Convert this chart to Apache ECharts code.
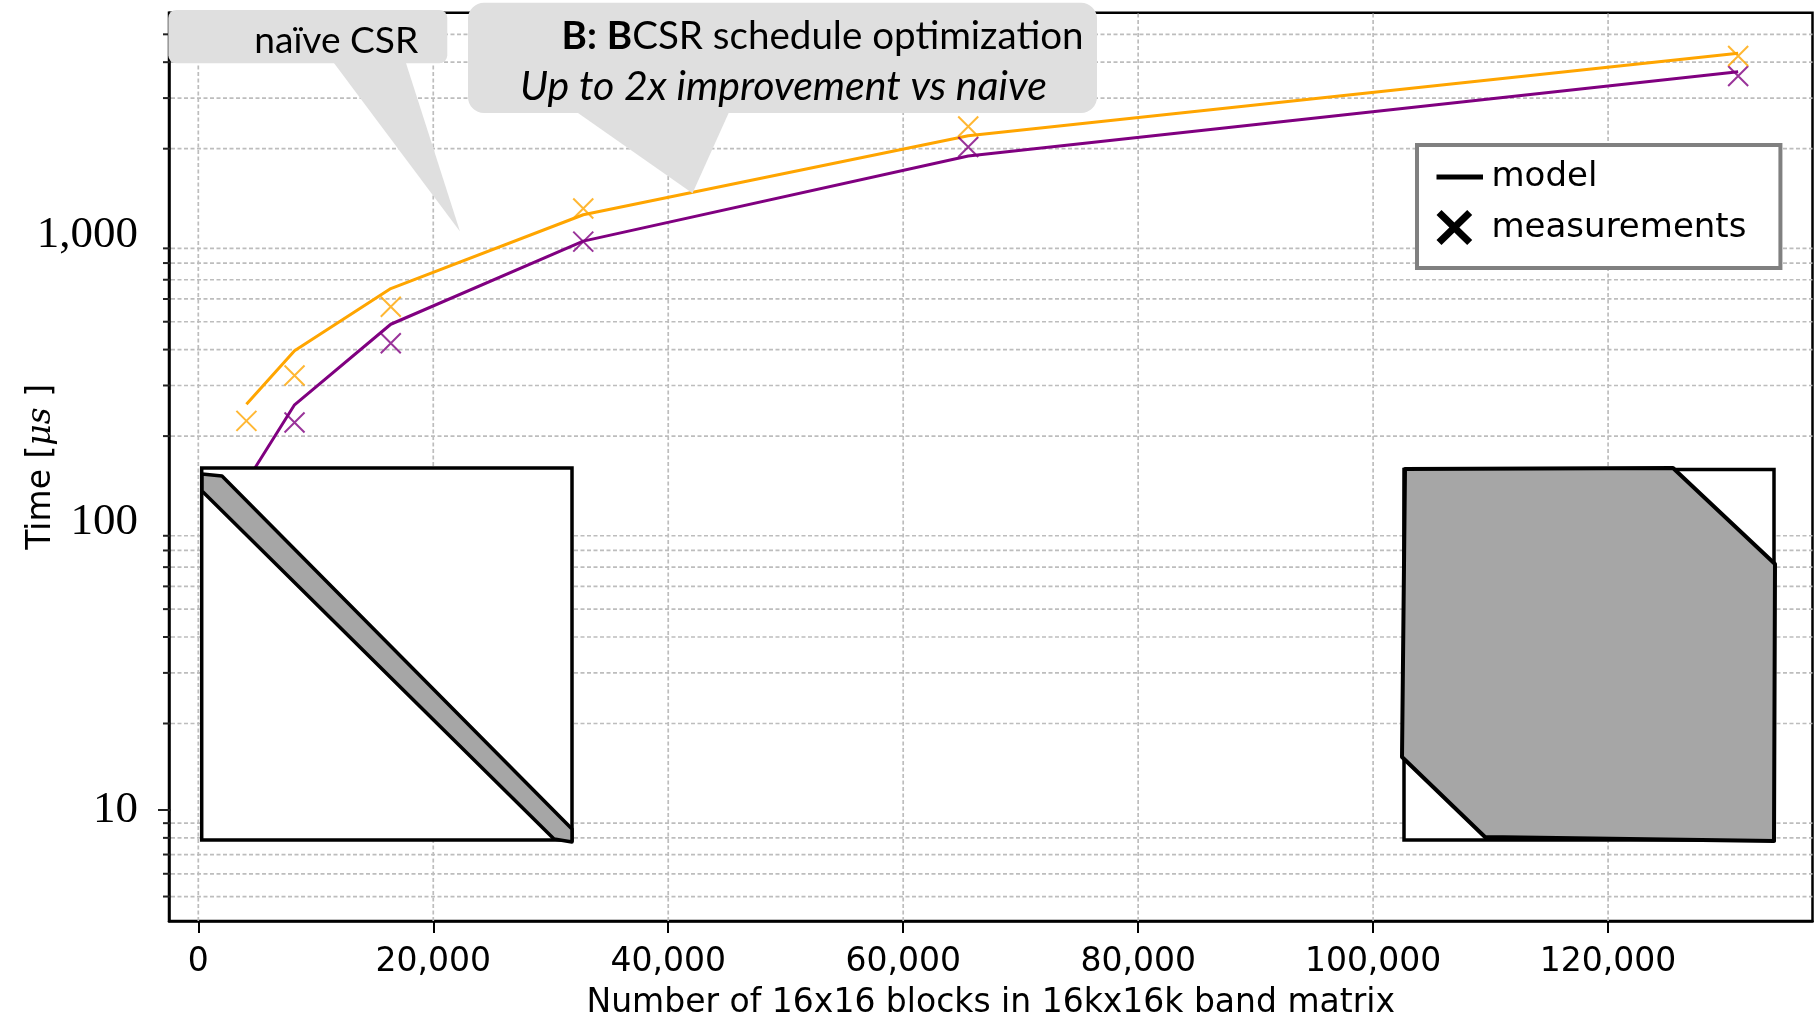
<!DOCTYPE html>
<html>
<head>
<meta charset="utf-8">
<title>CSR vs BCSR</title>
<script src="https://cdn.jsdelivr.net/npm/echarts@6/dist/echarts.min.js"></script>
<style>
    html, body { margin: 0; padding: 0; background: #fff; }
    #chart { width: 1819px; height: 1023px; }
</style>
</head>
<body>
<div id="chart"></div>
<script>
// 数据 ----
var blocks = [4096, 8192, 16384, 32768, 65536, 131072];
var naiveModel = [258, 396, 652, 1178, 2218, 4295];
var naiveMeas = [226, 325, 564, 1238, 2389, 4203];
var bcsrModel = [139, 257, 490, 954, 1886, 3703];
var bcsrMeas = [120, 223, 421, 950, 2027, 3580];
var xTicks = [0, 20000, 40000, 60000, 80000, 100000, 120000];
var yMinorTicks = [5, 6, 7, 8, 9, 20, 30, 40, 50, 60, 70, 80, 90,
    200, 300, 400, 500, 600, 700, 800, 900, 2000, 3000, 4000, 5000];
var yLongTicks = [10];
var xRange = [-2494, 137400];
var yRange = [4.11, 5946];
var legendNames = ['model', 'measurements'];

var ORANGE = '#ffa500', PURPLE = '#800080', GRID = '#bdbdbd', CALLOUT = '#dfdfdf';

// 按目标宽度求字号
var _ctx = document.createElement('canvas').getContext('2d');
function textW(parts, family) {
    var w = 0;
    parts.forEach(function (p) {
        _ctx.font = (p.style || 'normal') + ' ' + (p.weight || 'normal') + ' 100px ' + family;
        w += _ctx.measureText(p.text).width;
    });
    return w;
}
function fitSize(parts, family, target) { return 100 * target / textW(parts, family); }

var fsNaive = fitSize([{text: 'naïve CSR'}], 'Lato', 164);
var fsLine1 = fitSize([{text: 'B:', weight: 'bold'}, {text: ' '}, {text: 'B', weight: 'bold'}, {text: 'CSR schedule optimization'}], 'Lato', 522);
var fsLine2 = fitSize([{text: 'Up to 2x improvement vs naive', style: 'italic'}], 'Lato', 527);

var xMarker = 'path://M0,0L10,10M0,10L10,0';
var lineIcon = 'path://M0,0M50,36M0,15.5H46.5V20.5H0Z';
var crossIcon = 'path://M50,36M0,5L5,0L17.85,12.5L30.7,0L35.7,5L22.85,17.5L35.7,30L30.7,35L17.85,22.5L5,35L0,30L12.85,17.5Z';

function pairs(xs, ys) { return xs.map(function (x, i) { return [x, ys[i]]; }); }

// 横向次网格线 + 左侧刻度
function renderHGrid(params, api) {
    var v = api.value(1);
    var a = api.coord([xRange[0], v]);
    var b = api.coord([xRange[1], v]);
    var isLong = yLongTicks.indexOf(v) >= 0;
    var children = [{
        type: 'line',
        shape: {x1: a[0] - (isLong ? 11 : 6), y1: a[1], x2: a[0] + 2, y2: a[1]},
        style: {stroke: '#222', lineWidth: 2}
    }];
    if (!isLong) {
        children.push({
            type: 'line',
            shape: {x1: a[0] + 2, y1: a[1], x2: b[0], y2: b[1]},
            style: {stroke: GRID, lineWidth: 1.7, lineDash: [4, 2.5]}
        });
    }
    return {type: 'group', children: children};
}
// 纵向网格线
function renderVGrid(params, api) {
    var v = api.value(0);
    var a = api.coord([v, yRange[0]]);
    var b = api.coord([v, yRange[1]]);
    return {
        type: 'line',
        shape: {x1: a[0], y1: a[1], x2: b[0], y2: b[1]},
        style: {stroke: GRID, lineWidth: 1.7, lineDash: [4, 2.5]}
    };
}

var option = {
    backgroundColor: '#fff',
    animation: false,
    grid: {
        left: 169, right: 6.5, top: 12.7, bottom: 102,
        containLabel: false, outerBoundsMode: 'none',
        show: true, borderColor: '#000', borderWidth: 2.5, backgroundColor: 'transparent'
    },
    legend: {
        orient: 'vertical',
        left: 1417, top: 145,
        padding: [14, 34, 22, 19.5],
        itemGap: 15,
        itemWidth: 50, itemHeight: 36,
        selectedMode: false,
        backgroundColor: '#fff',
        borderColor: '#808080', borderWidth: 4,
        itemStyle: {borderWidth: 0},
        textStyle: {fontFamily: 'DejaVu Sans', fontSize: 34, color: '#000', padding: 0},
        data: [{name: legendNames[0], icon: lineIcon}, {name: legendNames[1], icon: crossIcon}]
    },
    xAxis: {
        type: 'value',
        min: xRange[0], max: xRange[1],
        name: 'Number of 16x16 blocks in 16kx16k band matrix',
        nameLocation: 'middle',
        nameGap: 66,
        nameMoveOverlap: false,
        nameTextStyle: {fontFamily: 'DejaVu Sans', fontSize: 33, color: '#000'},
        axisLine: {show: true, onZero: false, lineStyle: {color: '#000', width: 2.5}},
        axisTick: {show: true, customValues: xTicks, length: 12, lineStyle: {color: '#000', width: 2}},
        axisLabel: {
            customValues: xTicks, margin: 25,
            fontFamily: 'DejaVu Sans', fontSize: 33, color: '#000',
            formatter: function (v) { return Math.round(v).toLocaleString('en-US'); }
        },
        splitLine: {show: false}
    },
    yAxis: {
        type: 'log', logBase: 10,
        min: yRange[0], max: yRange[1],
        name: 'Time [{m|μs} ]',
        nameLocation: 'middle',
        nameRotate: 90,
        nameGap: 111,
        nameMoveOverlap: false,
        nameTextStyle: {
            fontFamily: 'DejaVu Sans', fontSize: 33, color: '#000',
            rich: {m: {fontFamily: 'DejaVu Serif', fontStyle: 'italic', fontSize: 33, color: '#000'}}
        },
        axisLine: {show: true, onZero: false, lineStyle: {color: '#000', width: 2.5}},
        axisTick: {show: false},
        axisLabel: {
            margin: 31, showMinLabel: false, showMaxLabel: false,
            fontFamily: 'Liberation Serif', fontSize: 45, color: '#000',
            formatter: function (v) { return Math.round(v).toLocaleString('en-US'); }
        },
        splitLine: {show: false}
    },
    series: [
        {
            type: 'custom', name: 'hgrid', silent: true, clip: false, z: 1,
            data: yMinorTicks.concat(yLongTicks).map(function (v) { return [0, v]; }),
            encode: {x: 0, y: 1},
            renderItem: renderHGrid
        },
        {
            type: 'custom', name: 'vgrid', silent: true, clip: false, z: 1,
            data: xTicks.map(function (v) { return [v, 10]; }),
            encode: {x: 0, y: 1},
            renderItem: renderVGrid
        },
        {
            type: 'line', name: 'bcsr-model', z: 3,
            data: pairs(blocks, bcsrModel),
            showSymbol: false,
            lineStyle: {color: PURPLE, width: 3},
            itemStyle: {color: PURPLE}
        },
        {
            type: 'line', name: 'naive-model', z: 3,
            data: pairs(blocks, naiveModel),
            showSymbol: false,
            lineStyle: {color: ORANGE, width: 3},
            itemStyle: {color: ORANGE}
        },
        {
            type: 'scatter', name: 'bcsr-meas', z: 4,
            data: pairs(blocks, bcsrMeas),
            symbol: xMarker, symbolSize: 20,
            itemStyle: {color: 'none', borderColor: PURPLE, borderWidth: 2}
        },
        {
            type: 'scatter', name: 'naive-meas', z: 4,
            data: pairs(blocks, naiveMeas),
            symbol: xMarker, symbolSize: 20,
            itemStyle: {color: 'none', borderColor: ORANGE, borderWidth: 2}
        },
        // 图例用
        {type: 'line', name: legendNames[0], data: [], itemStyle: {color: '#000'}, lineStyle: {color: '#000'}},
        {type: 'line', name: legendNames[1], data: [], itemStyle: {color: '#000'}, lineStyle: {color: '#000'}}
    ],
    graphic: [
        // 左下：带状矩阵示意
        {type: 'rect', z: 100, shape: {x: 201.7, y: 468, width: 370.3, height: 372},
            style: {fill: '#fff', stroke: '#000', lineWidth: 3.5}},
        {type: 'polygon', z: 101,
            shape: {points: [[202, 474], [222, 476], [572, 829], [572, 842], [554, 839], [202, 491]]},
            style: {fill: '#a6a6a6', stroke: '#000', lineWidth: 3.5, lineJoin: 'round'}},
        // 右下：大带宽示意
        {type: 'rect', z: 100, shape: {x: 1404, y: 469.5, width: 370, height: 370.5},
            style: {fill: '#fff', stroke: '#000', lineWidth: 3.5}},
        {type: 'polygon', z: 101,
            shape: {points: [[1405, 469], [1673, 468], [1775, 564], [1774, 841], [1485, 837], [1402, 757]]},
            style: {fill: '#a6a6a6', stroke: '#000', lineWidth: 4, lineJoin: 'round'}},
        // 标注：naïve CSR
        {type: 'rect', z: 110, shape: {x: 168.3, y: 10, width: 279, height: 53.3, r: 8},
            style: {fill: CALLOUT}},
        {type: 'polygon', z: 110, shape: {points: [[331.7, 60], [405, 60], [460, 231.5]]},
            style: {fill: CALLOUT}},
        {type: 'text', z: 111, x: 254.3, y: 60,
            style: {text: 'naïve CSR', fill: '#000', fontFamily: 'Lato', fontSize: fsNaive,
                align: 'left', verticalAlign: 'bottom'}},
        // 标注：BCSR
        {type: 'rect', z: 110, shape: {x: 468, y: 2.7, width: 629, height: 110.3, r: 16},
            style: {fill: CALLOUT}},
        {type: 'polygon', z: 110, shape: {points: [[573.7, 110], [730, 110], [692.5, 193.3]]},
            style: {fill: CALLOUT}},
        {type: 'text', z: 111, x: 561.6, y: 56,
            style: {text: '{b|B:} {b|B}CSR schedule optimization', fill: '#000',
                fontFamily: 'Lato', fontSize: fsLine1, align: 'left', verticalAlign: 'bottom',
                rich: {b: {fontFamily: 'Lato', fontWeight: 'bold', fontSize: fsLine1, fill: '#000'}}}},
        {type: 'text', z: 111, x: 520, y: 107.5,
            style: {text: 'Up to 2x improvement vs naive', fill: '#000', fontFamily: 'Lato',
                fontStyle: 'italic', fontSize: fsLine2, align: 'left', verticalAlign: 'bottom'}}
    ]
};

var myChart = echarts.init(document.getElementById('chart'), null, {renderer: 'canvas'});
myChart.setOption(option);
</script>
</body>
</html>
